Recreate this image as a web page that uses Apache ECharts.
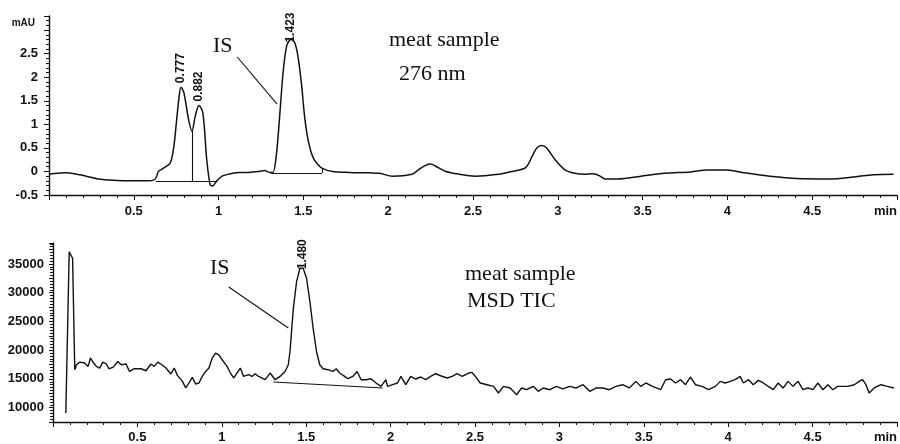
<!DOCTYPE html>
<html>
<head>
<meta charset="utf-8">
<script src="https://cdn.jsdelivr.net/npm/echarts@6/dist/echarts.min.js"></script>
<style>
html,body{margin:0;padding:0;background:#fff;}
#chart{width:900px;height:444px;}
</style>
</head>
<body>
<div id="chart"></div>
<script>
// ---- Top panel: UV 276 nm (mAU vs min) ----
var uvTime = [0.00,0.05,0.10,0.15,0.22,0.29,0.40,0.48,0.58,0.62,0.635,0.645,0.675,0.715,0.735,0.75,0.765,0.778,0.795,0.823,0.843,0.862,0.884,0.907,0.93,0.95,0.965,0.975,0.99,1.02,1.07,1.12,1.18,1.24,1.27,1.30,1.32,1.34,1.36,1.38,1.40,1.415,1.43,1.449,1.468,1.488,1.507,1.527,1.556,1.585,1.615,1.67,1.77,1.89,1.95,2.025,2.14,2.18,2.22,2.25,2.28,2.34,2.42,2.51,2.65,2.73,2.81,2.85,2.876,2.905,2.934,2.984,3.04,3.10,3.16,3.20,3.24,3.28,3.355,3.49,3.63,3.785,3.88,4.00,4.10,4.25,4.41,4.60,4.76,4.86,4.98];
var uvAbs  = [-0.06,-0.04,-0.03,-0.05,-0.10,-0.16,-0.19,-0.20,-0.20,-0.18,-0.10,0.00,0.07,0.18,0.50,1.00,1.52,1.79,1.68,1.10,0.85,1.17,1.40,1.25,0.25,-0.28,-0.31,-0.27,-0.20,-0.10,-0.05,-0.02,-0.02,0.00,0.02,-0.02,-0.02,0.33,1.17,2.09,2.65,2.77,2.80,2.73,2.44,1.88,1.17,0.68,0.30,0.15,0.06,0.00,-0.02,-0.03,-0.04,-0.10,-0.06,0.04,0.13,0.16,0.11,0.00,-0.06,-0.10,-0.06,0.00,0.08,0.33,0.50,0.55,0.50,0.25,0.04,-0.04,-0.06,-0.05,-0.08,-0.16,-0.16,-0.10,-0.04,-0.01,0.03,0.03,-0.03,-0.10,-0.15,-0.16,-0.11,-0.07,-0.06];
var uvPeakTimes = [0.777, 0.882, 1.423];
var uvPeakHeights = [1.79, 1.40, 2.80];

// ---- Bottom panel: MSD TIC ----
var ticTime = [0.076,0.096,0.104,0.116,0.129,0.139,0.159,0.188,0.208,0.222,0.241,0.257,0.276,0.296,0.316,0.331,0.355,0.384,0.404,0.433,0.453,0.482,0.522,0.551,0.58,0.60,0.62,0.645,0.669,0.698,0.718,0.737,0.767,0.786,0.806,0.825,0.845,0.865,0.884,0.904,0.924,0.943,0.963,0.982,1.002,1.031,1.051,1.071,1.09,1.11,1.129,1.159,1.178,1.198,1.218,1.228,1.257,1.286,1.316,1.345,1.375,1.394,1.404,1.424,1.443,1.463,1.482,1.502,1.522,1.541,1.561,1.58,1.60,1.629,1.659,1.678,1.698,1.728,1.747,1.776,1.802,1.825,1.855,1.884,1.914,1.943,1.972,1.982,2.012,2.041,2.061,2.09,2.119,2.149,2.178,2.208,2.237,2.267,2.296,2.335,2.365,2.394,2.424,2.463,2.482,2.502,2.531,2.571,2.61,2.639,2.669,2.708,2.747,2.776,2.806,2.845,2.875,2.904,2.943,2.982,3.02,3.06,3.10,3.14,3.18,3.218,3.257,3.296,3.335,3.375,3.414,3.453,3.482,3.512,3.551,3.60,3.629,3.659,3.688,3.718,3.747,3.776,3.806,3.845,3.884,3.924,3.953,3.982,4.012,4.041,4.071,4.09,4.12,4.149,4.178,4.208,4.237,4.267,4.296,4.325,4.355,4.384,4.414,4.443,4.473,4.502,4.531,4.561,4.59,4.62,4.649,4.708,4.747,4.776,4.796,4.816,4.835,4.865,4.904,4.943,4.982];
var ticCounts = [9080,37130,37430,36000,16600,17460,17930,17760,17170,18630,17760,17170,16890,17930,17590,16770,17000,18040,17460,17590,16300,16770,16770,16420,17590,17170,17930,17460,16890,15850,16890,15610,14570,13420,14290,15260,14110,14290,15430,16300,16890,18630,19500,19200,18330,17170,16020,15160,16020,16890,15430,15730,15430,15900,15430,15730,14860,16020,14860,15430,16300,17460,19770,27310,31930,34250,34250,32520,28450,23840,19770,17460,16770,16600,16300,16770,16020,15430,15030,15430,16300,14860,14860,15030,14290,13700,14860,13700,13990,14290,15430,13990,15430,14980,15330,14860,15430,15900,15550,15160,15430,15900,15430,16020,16130,15430,14290,13990,13700,12550,13700,13420,12260,13420,13120,13700,12830,13420,13120,13700,13250,13700,13420,13990,12830,13420,13420,13120,13700,13990,13420,14570,13700,14290,13700,13120,14860,14980,14290,14860,13990,15330,13990,13700,13120,13700,14570,14290,14570,14860,15430,14290,14860,13990,14740,14290,13700,13120,14290,13420,14570,13700,14570,13120,13420,13120,14290,13120,13990,13120,13700,13700,13990,14570,14860,13990,12550,13420,13990,13700,13420];
var ticPeakTimes = [1.480];
var ticPeakHeights = [34250];

// axis tick labels
var xTickLabels = {0.5:'0.5',1:'1',1.5:'1.5',2:'2',2.5:'2.5',3:'3',3.5:'3.5',4:'4',4.5:'4.5',5:'min'};
var uvYLabels = {'-0.5':'-0.5','0':'0','0.5':'0.5','1':'1','1.5':'1.5','2':'2','2.5':'2.5'};
var ticYLabels = {'10000':'10000','15000':'15000','20000':'20000','25000':'25000','30000':'30000','35000':'35000'};

function zip(a, b){ return a.map(function(v,i){ return [v, b[i]]; }); }
function key(v){ return String(Math.round(v*1000)/1000); }

var INK = '#111';
var labelFont = {fontFamily:'"Liberation Sans", Arial, sans-serif', fontWeight:'bold', fontSize:13, color:INK};
var serif = '"Liberation Serif", "Times New Roman", serif';

function xAxisCfg(grid){
  return {
    type:'value', gridIndex:grid, min:0, max:5, interval:0.5,
    axisLine:{show:true, onZero:false, lineStyle:{color:INK, width:1.4}},
    axisTick:{show:true, length:5, lineStyle:{color:INK, width:1}},
    minorTick:{show:true, splitNumber:5, length:3, lineStyle:{color:INK, width:1}},
    splitLine:{show:false}, minorSplitLine:{show:false},
    axisLabel:Object.assign({margin:grid===0?10:9, alignMaxLabel:'right',
      formatter:function(v){ var k=key(v); return xTickLabels[k] !== undefined ? xTickLabels[k] : ''; }}, labelFont)
  };
}

var option = {
  animation:false,
  backgroundColor:'#fff',
  grid:[
    {left:49, top:16, width:851, height:179},
    {left:53, top:243, width:850, height:179}
  ],
  xAxis:[xAxisCfg(0), xAxisCfg(1)],
  yAxis:[
    {type:'value', gridIndex:0, min:-0.5, max:3.3, interval:0.5,
     axisLine:{show:true, onZero:false, lineStyle:{color:INK, width:1.4}},
     axisTick:{show:true, length:5, lineStyle:{color:INK}},
     minorTick:{show:true, splitNumber:5, length:3, lineStyle:{color:INK}},
     splitLine:{show:false}, minorSplitLine:{show:false},
     axisLabel:Object.assign({margin:11, formatter:function(v){ var k=key(v); return uvYLabels[k]!==undefined?uvYLabels[k]:''; }}, labelFont)
    },
    {type:'value', gridIndex:1, min:7500, max:38650, interval:2500,
     axisLine:{show:true, onZero:false, lineStyle:{color:INK, width:1.4}},
     axisTick:{show:true, length:4, lineStyle:{color:INK}},
     minorTick:{show:true, splitNumber:5, length:3, lineStyle:{color:INK}},
     splitLine:{show:false}, minorSplitLine:{show:false},
     axisLabel:Object.assign({margin:9, formatter:function(v){ var k=key(v); return ticYLabels[k]!==undefined?ticYLabels[k]:''; }}, labelFont)
    }
  ],
  series:[
    {
      type:'line', xAxisIndex:0, yAxisIndex:0, data:zip(uvTime, uvAbs),
      showSymbol:false, smooth:0.3, silent:true,
      lineStyle:{color:INK, width:1.5},
      markLine:{
        silent:true, symbol:'none', label:{show:false},
        lineStyle:{color:INK, width:1.1, type:'solid'},
        data:[
          [{coord:[0.63,-0.21]},{coord:[0.99,-0.21]}],
          [{coord:[0.845,-0.21]},{coord:[0.845,0.85]}],
          [{coord:[1.31,-0.03]},{coord:[1.61,-0.03]}],
          [{coord:[1.61,-0.03]},{coord:[1.61,0.07]}],
          [{coord:[1.11,2.43]},{coord:[1.345,1.43]}]
        ]
      },
      markPoint:{
        silent:true, symbol:'circle', symbolSize:0,
        data:uvPeakTimes.map(function(t,i){ return {name:t.toFixed(3), coord:[t, uvPeakHeights[i]],
          label:{distance: i===2 ? -3 : 4}}; }),
        label:{show:true, rotate:90, align:'left', verticalAlign:'middle', position:'top',
          fontFamily:'"Liberation Sans", Arial, sans-serif', fontWeight:'bold', fontSize:12, color:INK,
          formatter:function(p){ return p.name; }}
      }
    },
    {
      type:'line', xAxisIndex:1, yAxisIndex:1, data:zip(ticTime, ticCounts),
      showSymbol:false, smooth:false, silent:true,
      lineStyle:{color:INK, width:1.4},
      markLine:{
        silent:true, symbol:'none', label:{show:false},
        lineStyle:{color:INK, width:1.1, type:'solid'},
        data:[
          [{coord:[1.306,14460]},{coord:[1.953,13420]}],
          [{coord:[1.041,30990]},{coord:[1.394,23860]}]
        ]
      },
      markPoint:{
        silent:true, symbol:'circle', symbolSize:0,
        label:{show:true, rotate:90, align:'left', verticalAlign:'middle', position:'top', distance:-1,
          fontFamily:'"Liberation Sans", Arial, sans-serif', fontWeight:'bold', fontSize:12, color:INK,
          formatter:function(p){ return p.name; }},
        data:ticPeakTimes.map(function(t,i){ return {name:t.toFixed(3), coord:[t, ticPeakHeights[i]]}; })
      }
    }
  ],
  graphic:[
    {type:'text', x:35, y:23, silent:true, style:{text:'mAU', font:'bold 10px "Liberation Sans", Arial', fill:INK, textAlign:'right', textVerticalAlign:'middle'}},
    {type:'text', x:213, y:46, silent:true, style:{text:'IS', font:'22px '+serif, fill:INK, textAlign:'left', textVerticalAlign:'middle'}},
    {type:'text', x:389, y:40, silent:true, style:{text:'meat sample', font:'22px '+serif, fill:INK, textAlign:'left', textVerticalAlign:'middle'}},
    {type:'text', x:399, y:74, silent:true, style:{text:'276 nm', font:'22px '+serif, fill:INK, textAlign:'left', textVerticalAlign:'middle'}},
    {type:'text', x:210, y:268, silent:true, style:{text:'IS', font:'22px '+serif, fill:INK, textAlign:'left', textVerticalAlign:'middle'}},
    {type:'text', x:465, y:274, silent:true, style:{text:'meat sample', font:'22px '+serif, fill:INK, textAlign:'left', textVerticalAlign:'middle'}},
    {type:'text', x:467, y:301, silent:true, style:{text:'MSD TIC', font:'22px '+serif, fill:INK, textAlign:'left', textVerticalAlign:'middle'}}
  ]
};

var chart = echarts.init(document.getElementById('chart'), null, {renderer:'canvas'});
chart.setOption(option);
</script>
</body>
</html>
